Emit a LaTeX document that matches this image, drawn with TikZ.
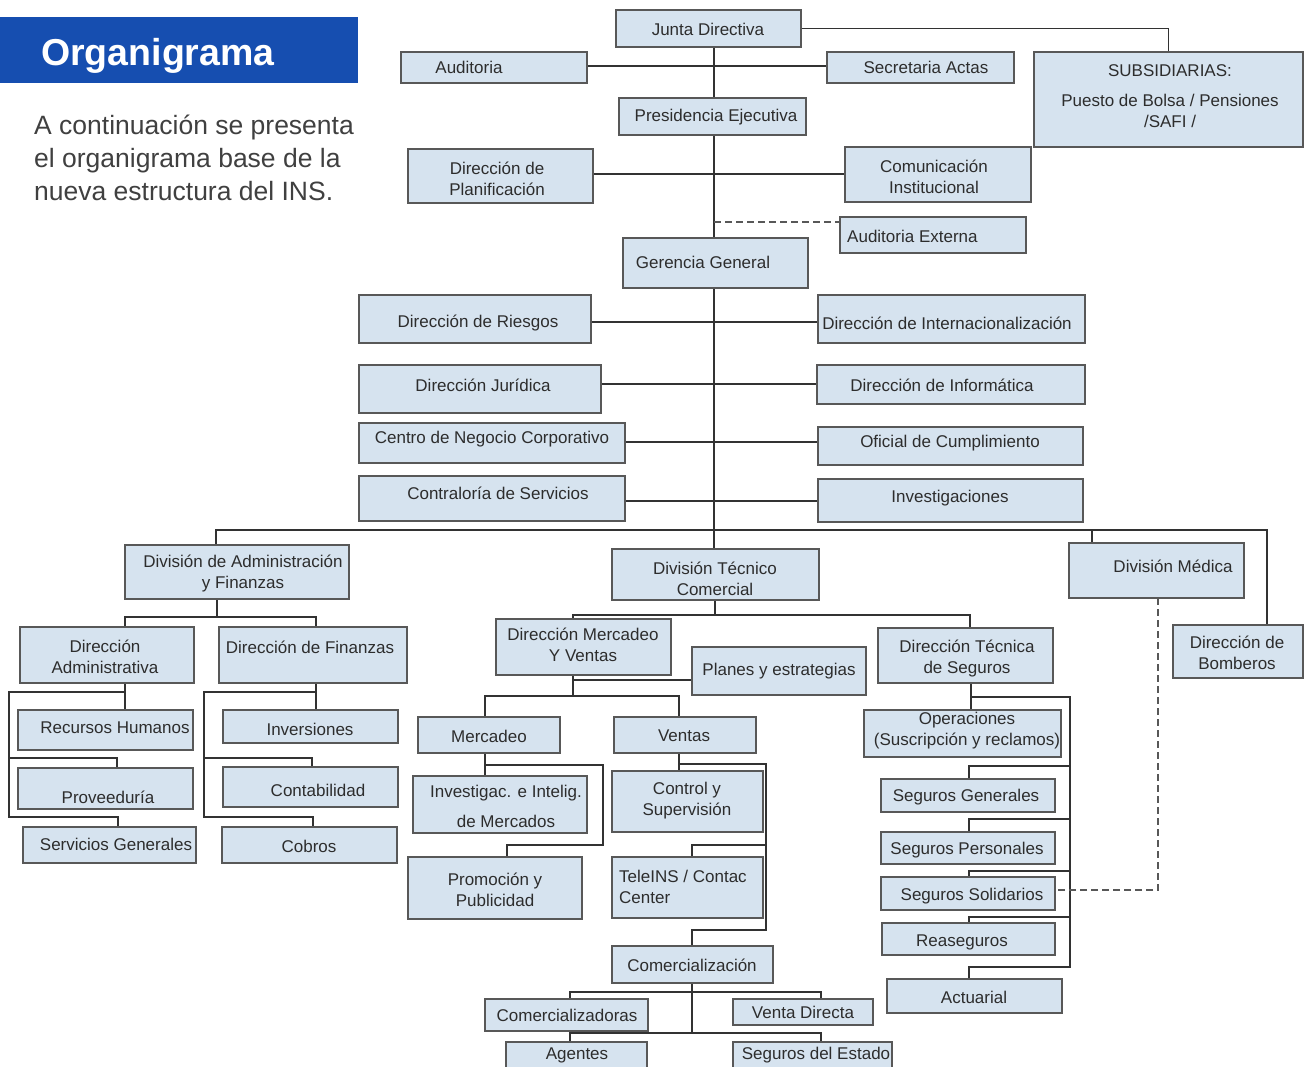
\documentclass[tikz,border=0pt]{standalone}
\usepackage{fontspec}
\setmainfont{Liberation Sans}
\usetikzlibrary{calc}
\pgfdeclarelayer{bg}
\pgfsetlayers{bg,main}
\definecolor{boxfill}{RGB}{214,227,239}
\definecolor{boxline}{RGB}{88,88,88}
\definecolor{lncol}{RGB}{50,50,50}
\definecolor{txtcol}{RGB}{45,45,45}
\definecolor{titleblue}{RGB}{22,78,176}
\tikzset{
  obox/.style={draw=boxline, fill=boxfill, line width=1.6pt, inner sep=0pt, outer sep=0pt},
  otxt/.style={font=\fontsize{17}{21}\selectfont, text=txtcol, align=center, inner sep=0pt},
  ln/.style={draw=lncol, line width=1.5pt},
  dsh/.style={draw=boxline, line width=1.5pt, dash pattern=on 7pt off 4pt},
}
\newcommand\ob[8]{%
  \node[obox, minimum width={#4-#2}, minimum height={#5-#3}] (#1) at ({(#2+#4)/2},{(#3+#5)/2}) {};
  \node[otxt] (#1-t) at (#6,#7) {#8};}
\newcommand\obl[8]{%
  \node[obox, minimum width={#4-#2}, minimum height={#5-#3}] (#1) at ({(#2+#4)/2},{(#3+#5)/2}) {};
  \node[otxt, anchor=west, align=left] (#1-t) at (#6,#7) {#8};}
\begin{document}
\begin{tikzpicture}[x=1pt,y=-1pt]
\useasboundingbox (0,0) rectangle (1306,1066);
\begin{pgfonlayer}{bg}
\fill[white] (0,0) rectangle (1306,1066);
\end{pgfonlayer}

% title
\node[fill=titleblue, minimum width=358, minimum height=66, inner sep=0pt, anchor=north west] (title) at (0,17) {};
\node[font=\fontsize{37.5}{40}\selectfont\bfseries, text=white, anchor=base west, inner sep=0pt] (title-t) at (41,65) {Organigrama};
\node[font=\fontsize{26.5}{33}\selectfont, text=black!75, anchor=north west, align=left, inner sep=0pt] (intro) at (34,115)
  {A continuación se presenta\\el organigrama base de la\\nueva estructura del INS.};

% boxes
\ob{jd}{616}{10}{801}{47}{708}{29}{Junta Directiva}
\ob{aud}{401}{52}{587}{83}{469}{67}{Auditoria}
\ob{sec}{827}{52}{1014}{83}{926}{67}{Secretaria Actas}
\ob{sub}{1034}{52}{1303}{147}{1170}{96}{SUBSIDIARIAS:\\[9pt]Puesto de Bolsa / Pensiones\\/SAFI /}
\ob{pe}{619}{98}{806}{135}{716}{117}{Presidencia Ejecutiva}
\ob{plan}{408}{149}{593}{203}{497}{179}{Dirección de\\Planificación}
\ob{com}{845}{147}{1031}{202}{934}{177}{Comunicación\\Institucional}
\obl{aue}{840}{217}{1026}{253}{847}{236}{Auditoria Externa}
\ob{gg}{623}{238}{808}{288}{703}{262}{Gerencia General}
\ob{rie}{359}{295}{591}{343}{478}{323}{Dirección de Riesgos}
\ob{int}{818}{295}{1085}{343}{947}{323}{Dirección de Internacionalización}
\ob{jur}{359}{365}{601}{413}{483}{385}{Dirección Jurídica}
\ob{inf}{817}{365}{1085}{404}{942}{385}{Dirección de Informática}
\ob{cnc}{359}{423}{625}{463}{492}{439}{Centro de Negocio Corporativo}
\ob{ofc}{818}{427}{1083}{465}{950}{443}{Oficial de Cumplimiento}
\ob{con}{359}{476}{625}{521}{498}{493}{Contraloría de Servicios}
\ob{inv}{818}{479}{1083}{522}{950}{498}{Investigaciones}
\ob{daf}{125}{545}{349}{599}{243}{573}{División de Administración\\y Finanzas}
\ob{dtc}{612}{549}{819}{600}{715}{579}{División Técnico\\Comercial}
\ob{dm}{1069}{543}{1244}{598}{1173}{566}{División Médica}
\ob{da}{20}{627}{194}{683}{105}{657}{Dirección\\Administrativa}
\ob{df}{219}{627}{407}{683}{310}{647}{Dirección de Finanzas}
\ob{rh}{18}{710}{193}{750}{115}{728}{Recursos Humanos}
\ob{prov}{18}{768}{193}{809}{108}{797}{Proveeduría}
\ob{sg}{23}{827}{196}{863}{116}{844}{Servicios Generales}
\ob{invs}{223}{710}{398}{743}{310}{729}{Inversiones}
\ob{cont}{223}{767}{398}{807}{318}{790}{Contabilidad}
\ob{cob}{222}{827}{397}{863}{309}{846}{Cobros}
\ob{dmv}{496}{619}{671}{675}{583}{645}{Dirección Mercadeo\\Y Ventas}
\ob{pla}{692}{647}{866}{695}{779}{671}{Planes y estrategias}
\ob{dts}{878}{628}{1053}{683}{967}{658}{Dirección Técnica\\de Seguros}
\ob{bom}{1173}{625}{1303}{678}{1237}{653}{Dirección de\\Bomberos}
\ob{mer}{418}{717}{560}{753}{489}{736}{Mercadeo}
\ob{ven}{614}{717}{756}{753}{684}{736}{Ventas}
\ob{iim}{413}{776}{587}{833}{506}{806}{Investigac. e Intelig.\\[9pt]de Mercados}
\ob{cys}{612}{771}{763}{832}{687}{801}{Control y\\Supervisión}
\ob{pro}{408}{857}{582}{919}{495}{890}{Promoción y\\Publicidad}
\obl{tel}{612}{857}{763}{918}{619}{887}{TeleINS / Contac\\Center}
\ob{ops}{864}{710}{1061}{757}{967}{731}{Operaciones\\(Suscripción y reclamos)}
\ob{sgen}{881}{779}{1055}{812}{966}{797}{Seguros Generales}
\ob{sper}{881}{832}{1055}{864}{967}{850}{Seguros Personales}
\ob{ssol}{881}{877}{1055}{910}{972}{896}{Seguros Solidarios}
\ob{rea}{882}{923}{1055}{955}{962}{942}{Reaseguros}
\ob{act}{887}{979}{1062}{1013}{974}{997}{Actuarial}
\ob{comz}{612}{946}{773}{983}{692}{965}{Comercialización}
\ob{cmz}{485}{999}{648}{1031}{567}{1015}{Comercializadoras}
\ob{vd}{733}{999}{873}{1025}{803}{1012}{Venta Directa}
\ob{age}{506}{1042}{647}{1072}{577}{1055}{Agentes}
\ob{sde}{733}{1042}{892}{1072}{816}{1055}{Seguros del Estado}

\begin{pgfonlayer}{bg}
% top
\draw[ln] (jd.east) -| (sub.north);
\draw[ln] (jd.south -| 714,0) -- (dtc.north -| 714,0);
\draw[ln] (aud.east |- 0,66) -- (sec.west |- 0,66);
\draw[ln] (plan.east |- 0,174) -- (com.west |- 0,174);
\draw[dsh] (714,222) -- (aue.west |- 0,222);
\draw[ln] (rie.east |- 0,322) -- (int.west |- 0,322);
\draw[ln] (jur.east |- 0,384) -- (inf.west |- 0,384);
\draw[ln] (cnc.east |- 0,442) -- (ofc.west |- 0,442);
\draw[ln] (con.east |- 0,501) -- (inv.west |- 0,501);
% division bus
\draw[ln] (daf.north -| 216,0) -- (216,530) -- (1267,530) -- (bom.north -| 1267,0);
\draw[ln] (1092,530) -- (dm.north -| 1092,0);
% admin y finanzas
\draw[ln] (daf.south -| 217,0) -- (217,617);
\draw[ln] (da.north -| 125,0) -- (125,617) -- (316,617) -- (df.north -| 316,0);
\draw[ln] (da.south -| 125,0) -- (rh.north -| 125,0);
\draw[ln] (125,692) -- (9,692) -- (9,817) -| (sg.north -| 118,0);
\draw[ln] (9,758) -| (prov.north -| 117,0);
\draw[ln] (df.south -| 316,0) -- (invs.north -| 316,0);
\draw[ln] (316,692) -- (204,692) -- (204,817) -| (cob.north -| 313,0);
\draw[ln] (204,758) -| (cont.north -| 312,0);
% tecnico comercial
\draw[ln] (dtc.south -| 715,0) -- (715,615);
\draw[ln] (dmv.north -| 573,0) -- (573,615) -| (dts.north -| 970,0);
\draw[ln] (dmv.south -| 573,0) -- (573,696);
\draw[ln] (573,680) -- (pla.west |- 0,680);
\draw[ln] (mer.north -| 485,0) -- (485,696) -| (ven.north -| 679,0);
\draw[ln] (mer.south -| 485,0) -- (iim.north -| 485,0);
\draw[ln] (485,765) -- (603,765) -- (603,845) -| (pro.north -| 507,0);
\draw[ln] (ven.south -| 679,0) -- (cys.north -| 679,0);
\draw[ln] (679,764) -- (766,764) -- (766,930) -| (comz.north -| 692,0);
\draw[ln] (766,845) -| (tel.north -| 692,0);
\draw[ln] (comz.south -| 692,0) -- (692,1033);
\draw[ln] (cmz.north -| 570,0) -- (570,992) -- (821,992) -- (vd.north -| 821,0);
\draw[ln] (age.north -| 570,0) -- (570,1033) -- (821,1033) -- (sde.north -| 821,0);
% tecnica de seguros
\draw[ln] (dts.south -| 971,0) -- (ops.north -| 971,0);
\draw[ln] (971,697) -- (1070,697) -- (1070,967) -| (act.north -| 969,0);
\draw[ln] (1070,766) -| (sgen.north -| 969,0);
\draw[ln] (1070,819) -| (sper.north -| 969,0);
\draw[ln] (1070,871) -| (ssol.north -| 969,0);
\draw[ln] (1070,917) -| (rea.north -| 969,0);
% medica
\draw[dsh] (dm.south -| 1158,0) -- (1158,890) -- (ssol.east |- 0,890);
\end{pgfonlayer}
\end{tikzpicture}
\end{document}
